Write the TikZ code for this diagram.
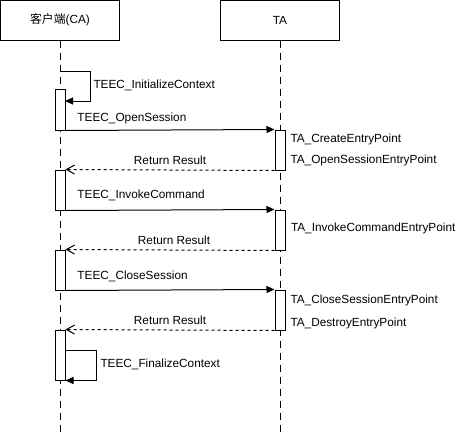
\documentclass[tikz,border=0pt]{standalone}
\usepackage{fontspec}
\setmainfont{Liberation Sans}
\newfontfamily\cjk{Noto Sans CJK SC}
\usetikzlibrary{arrows.meta,positioning}

\begin{document}
\begin{tikzpicture}[x=1pt,y=-1pt,line width=1pt,
    head/.style={draw,minimum width=119pt,minimum height=40pt,inner sep=0pt,font=\fontsize{11.8}{14}\selectfont},
    act/.style={draw,fill=white,minimum width=10pt,inner sep=0pt},
    lifeline/.style={dash pattern=on 7pt off 5pt},
    msg/.style={-{Triangle[length=8pt,width=7pt]}},
    ret/.style={dash pattern=on 3pt off 3pt,-{Straight Barb[length=8pt,width=9pt]}},
    lbl/.style={inner sep=0pt,font=\fontsize{11.8}{14}\selectfont}]

  \useasboundingbox (0,0) rectangle (459,432);

  % lifeline heads
  \node[head] (ca) at (60,20) {{\cjk 客户端}(CA)};
  \node[head] (ta) at (280,20) {TA};
  \coordinate (caend) at (60,432);
  \coordinate (taend) at (280,432);
  \draw[lifeline] (ca) -- (caend);
  \draw[lifeline] (ta) -- (taend);

  % activations
  \node[act,minimum height=41pt] (ca1) at (60,109.5) {};
  \node[act,minimum height=40pt] (ta1) at (280,150) {};
  \node[act,minimum height=40pt] (ca2) at (60,190) {};
  \node[act,minimum height=40pt] (ta2) at (280,230) {};
  \node[act,minimum height=40pt] (ca3) at (60,270) {};
  \node[act,minimum height=40pt] (ta3) at (280,310) {};
  \node[act,minimum height=50pt] (ca4) at (60,355) {};

  % self calls
  \coordinate (init) at (60,71);
  \coordinate (initend) at (65,101);
  \draw[msg] (init) -- ++(30,0) |- (initend);
  \node[lbl,anchor=west] (initl) at (93,85) {TEEC\_InitializeContext};

  \coordinate (fin) at (65,350);
  \draw[msg] (fin) -- ++(31,0) |- (ca4.south east);
  \node[lbl,anchor=west] (finl) at (100,364) {TEEC\_FinalizeContext};

  % calls and returns
  \draw[msg] (ca1.south east) -- (ta1.north west);
  \draw[ret] (ta1.south west) -- (ca2.north east);
  \draw[msg] (ca2.south east) -- (ta2.north west);
  \draw[ret] (ta2.south west) -- (ca3.north east);
  \draw[msg] (ca3.south east) -- (ta3.north west);
  \draw[ret] (ta3.south west) -- (ca4.north east);

  \node[lbl,anchor=west] (openl) at (77,118) {TEEC\_OpenSession};
  \node[lbl,anchor=west] (invokel) at (77,195) {TEEC\_InvokeCommand};
  \node[lbl,anchor=west] (closel) at (77,276) {TEEC\_CloseSession};
  \node[lbl] (ret1) at (170,160) {Return Result};
  \node[lbl] (ret2) at (174,240) {Return Result};
  \node[lbl] (ret3) at (170,320) {Return Result};

  % entry points
  \node[lbl,anchor=west] (create) at (290,139) {TA\_CreateEntryPoint};
  \node[lbl,anchor=west] (opensess) at (290,160) {TA\_OpenSessionEntryPoint};
  \node[lbl,right=5pt of ta2,yshift=2pt] (invoke) {TA\_InvokeCommandEntryPoint};
  \node[lbl,anchor=west] (closesess) at (290,300) {TA\_CloseSessionEntryPoint};
  \node[lbl,anchor=west] (destroy) at (290,323) {TA\_DestroyEntryPoint};
\end{tikzpicture}
\end{document}
